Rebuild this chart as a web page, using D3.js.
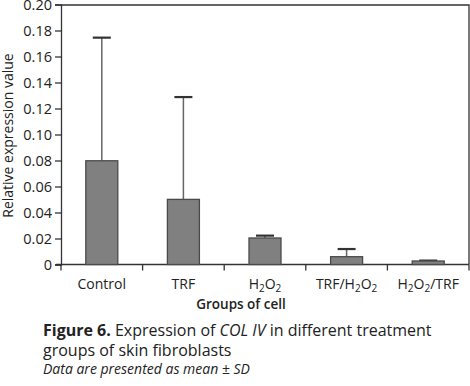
<!DOCTYPE html>
<html>
<head>
<meta charset="utf-8">
<script src="https://cdn.jsdelivr.net/npm/d3@7"></script>
<style>
  body { margin: 0; background: #fff; }
  svg { display: block; font-family: 'Open Sans', sans-serif; }
</style>
</head>
<body>
<svg id="chart"></svg>
<script>
// groups, means and SD
const groups = ['Control', 'TRF', 'H2O2', 'TRF/H2O2', 'H2O2/TRF'];
const means = [0.0798, 0.0501, 0.0204, 0.0060, 0.0027];
const sds = [0.0947, 0.0787, 0.0018, 0.0059, 0.0003];
const yTicks = [0, 0.02, 0.04, 0.06, 0.08, 0.10, 0.12, 0.14, 0.16, 0.18, 0.20];

const width = 470, height = 386;
const margin = {top: 4.5, right: 1, bottom: 121.5, left: 61};
const w = width - margin.left - margin.right;
const h = height - margin.top - margin.bottom;

const svg = d3.select('#chart')
    .attr('width', width)
    .attr('height', height);

const g = svg.append('g')
    .attr('transform', `translate(${margin.left},${margin.top})`);

const x = d3.scaleBand().domain(groups).range([0, w]);
const y = d3.scaleLinear().domain([0, 0.2]).range([h, 0]);

const axisColor = '#333';
const barW = 32, capW = 18;

// frame top + right
g.append('path')
    .attr('d', `M0,0.5H${w}V${h}`)
    .attr('fill', 'none')
    .attr('stroke', axisColor)
    .attr('stroke-width', 1.3);

// y axis
const yAxis = g.append('g')
    .call(d3.axisLeft(y).tickValues(yTicks).tickSizeOuter(0).tickSize(6).tickPadding(3)
        .tickFormat(d => d === 0 ? '0' : d.toFixed(2)));
yAxis.selectAll('path, line').attr('stroke', axisColor).attr('stroke-width', 1.3);
yAxis.selectAll('text')
    .attr('font-family', "'Open Sans', sans-serif")
    .attr('font-size', 14.5)
    .attr('fill', '#222');

// x axis line + ticks at band edges
g.append('line')
    .attr('x1', -5).attr('x2', w)
    .attr('y1', h).attr('y2', h)
    .attr('stroke', axisColor).attr('stroke-width', 1.3);

const edges = [0].concat(groups.map(d => x(d) + x.bandwidth()));
g.selectAll('.xtick')
    .data(edges)
    .join('line')
    .attr('class', 'xtick')
    .attr('x1', d => d).attr('x2', d => d)
    .attr('y1', h).attr('y2', h + 6)
    .attr('stroke', axisColor).attr('stroke-width', 1.3);

// category labels, with subscript 2
const labels = g.selectAll('.xlabel')
    .data(groups)
    .join('text')
    .attr('class', 'xlabel')
    .attr('x', d => x(d) + x.bandwidth() / 2)
    .attr('y', h + 24)
    .attr('text-anchor', 'middle')
    .attr('font-size', 14)
    .attr('fill', '#222');

labels.each(function(d) {
  const t = d3.select(this);
  d.split(/(2)/).forEach(part => {
    if (part === '') return;
    if (part === '2') {
      t.append('tspan').attr('baseline-shift', '-25%').attr('font-size', 10).text('2');
    } else {
      t.append('tspan').text(part);
    }
  });
});

// error bars
const err = g.selectAll('.err')
    .data(groups)
    .join('g')
    .attr('class', 'err');

err.append('line')
    .attr('x1', d => x(d) + x.bandwidth() / 2)
    .attr('x2', d => x(d) + x.bandwidth() / 2)
    .attr('y1', (d, i) => y(means[i]))
    .attr('y2', (d, i) => y(means[i] + sds[i]))
    .attr('stroke', '#666')
    .attr('stroke-width', 1.5);

err.append('line')
    .attr('x1', d => x(d) + x.bandwidth() / 2 - capW / 2)
    .attr('x2', d => x(d) + x.bandwidth() / 2 + capW / 2)
    .attr('y1', (d, i) => y(means[i] + sds[i]))
    .attr('y2', (d, i) => y(means[i] + sds[i]))
    .attr('stroke', '#333')
    .attr('stroke-width', 2.2);

// bars
g.selectAll('.bar')
    .data(groups)
    .join('rect')
    .attr('class', 'bar')
    .attr('x', d => x(d) + x.bandwidth() / 2 - barW / 2)
    .attr('width', barW)
    .attr('y', (d, i) => y(means[i]))
    .attr('height', (d, i) => h - y(means[i]))
    .attr('fill', '#808080')
    .attr('stroke', '#4a4a4a')
    .attr('stroke-width', 1.3);

// axis titles
svg.append('text')
    .attr('transform', `translate(13,${margin.top + h / 2 + 1}) rotate(-90)`)
    .attr('text-anchor', 'middle')
    .attr('font-size', 14)
    .attr('fill', '#222')
    .text('Relative expression value');

svg.append('text')
    .attr('x', 241)
    .attr('y', 308.5)
    .attr('text-anchor', 'middle')
    .attr('font-size', 13.5)
    .attr('font-weight', 600)
    .attr('fill', '#222')
    .text('Groups of cell');

// caption
const cap1 = svg.append('text')
    .attr('x', 43).attr('y', 336)
    .attr('font-size', 16)
    .attr('fill', '#222');
cap1.append('tspan').attr('font-weight', 700).text('Figure 6.');
cap1.append('tspan').text(' Expression of ');
cap1.append('tspan').attr('font-style', 'italic').text('COL IV');
cap1.append('tspan').text(' in different treatment');

svg.append('text')
    .attr('x', 43).attr('y', 356)
    .attr('font-size', 16)
    .attr('fill', '#222')
    .text('groups of skin fibroblasts');

svg.append('text')
    .attr('x', 43).attr('y', 374)
    .attr('font-size', 14)
    .attr('font-style', 'italic')
    .attr('fill', '#222')
    .text('Data are presented as mean ± SD');
</script>
</body>
</html>
